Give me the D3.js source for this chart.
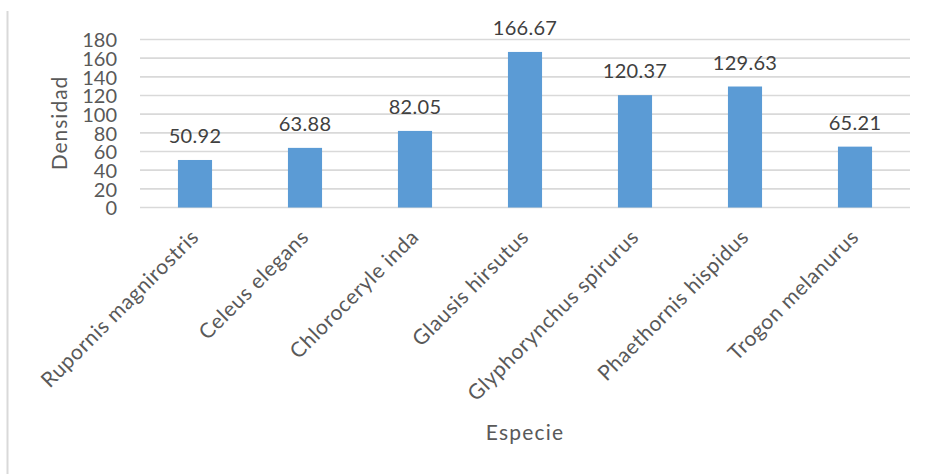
<!DOCTYPE html>
<html>
<head>
<meta charset="utf-8">
<script src="https://cdn.jsdelivr.net/npm/d3@7"></script>
<style>
  html, body { margin: 0; padding: 0; background: #fff; }
  svg { display: block; font-family: Lato, "Open Sans", sans-serif; }
</style>
</head>
<body>
<svg id="chart" width="930" height="474"></svg>
<script>
const categories = ["Rupornis magnirostris", "Celeus elegans", "Chloroceryle inda", "Glausis hirsutus", "Glyphorynchus spirurus", "Phaethornis hispidus", "Trogon melanurus"];
const values = [50.92, 63.88, 82.05, 166.67, 120.37, 129.63, 65.21];
const yTicks = [0, 20, 40, 60, 80, 100, 120, 140, 160, 180];
const xTitle = "Especie";
const yTitle = "Densidad";

(function () {
const svg = d3.select("#chart");
const mLeft = 140, mRight = 910, mTop = 39.5, mBottom = 207.5;

const x = d3.scaleBand().domain(categories).range([mLeft, mRight]).paddingInner(0.69).paddingOuter(0.345);
const y = d3.scaleLinear().domain([0, 180]).range([mBottom, mTop]);

// frame left border
svg.append("line").attr("x1", 7.5).attr("x2", 7.5).attr("y1", 11).attr("y2", 474)
  .attr("stroke", "#d9d9d9").attr("stroke-width", 2);

// gridlines
svg.append("g").selectAll("line").data(yTicks).join("line")
  .attr("x1", mLeft).attr("x2", mRight)
  .attr("y1", d => y(d)).attr("y2", d => y(d))
  .attr("stroke", "#d9d9d9").attr("stroke-width", 1.6);

// y axis labels
const yAxis = d3.axisLeft(y).tickValues(yTicks).tickSize(0).tickPadding(0).tickFormat(d3.format("d"));
const gy = svg.append("g").attr("transform", "translate(117,0)").call(yAxis);
gy.select(".domain").remove();
gy.selectAll("text").attr("font-size", 20).attr("fill", "#595959").attr("font-family", "Lato, sans-serif").attr("dy", "0.36em");

// bars
svg.append("g").selectAll("rect").data(values).join("rect")
  .attr("x", (d, i) => x(categories[i]))
  .attr("width", x.bandwidth())
  .attr("y", d => y(d))
  .attr("height", d => y(0) - y(d))
  .attr("fill", "#5b9bd5");

// data labels
svg.append("g").selectAll("text").data(values).join("text")
  .attr("x", (d, i) => x(categories[i]) + x.bandwidth() / 2)
  .attr("y", d => y(d) - 17)
  .attr("text-anchor", "middle")
  .attr("font-size", 20)
  .attr("fill", "#404040")
  .attr("letter-spacing", 0.3)
  .text(d => d.toFixed(2));

// x axis category labels
const xAxis = d3.axisBottom(x).tickSize(0).tickPadding(0);
const gx = svg.append("g").attr("transform", `translate(0,${mBottom})`).call(xAxis);
gx.select(".domain").remove();
gx.selectAll("text")
  .attr("font-size", 21).attr("fill", "#595959").attr("font-family", "Lato, sans-serif")
  .attr("letter-spacing", 0.6)
  .attr("text-anchor", "end")
  .attr("dy", 0).attr("y", 0)
  .attr("transform", "translate(5,31) rotate(-45)");

// axis titles
svg.append("text").attr("x", (mLeft + mRight) / 2).attr("y", 440)
  .attr("text-anchor", "middle").attr("font-size", 21).attr("fill", "#595959")
  .attr("letter-spacing", 1.2).text(xTitle);
svg.append("text").attr("transform", "translate(67,123) rotate(-90)")
  .attr("text-anchor", "middle").attr("font-size", 21).attr("fill", "#595959")
  .attr("letter-spacing", 1).text(yTitle);
})();
</script>
</body>
</html>
